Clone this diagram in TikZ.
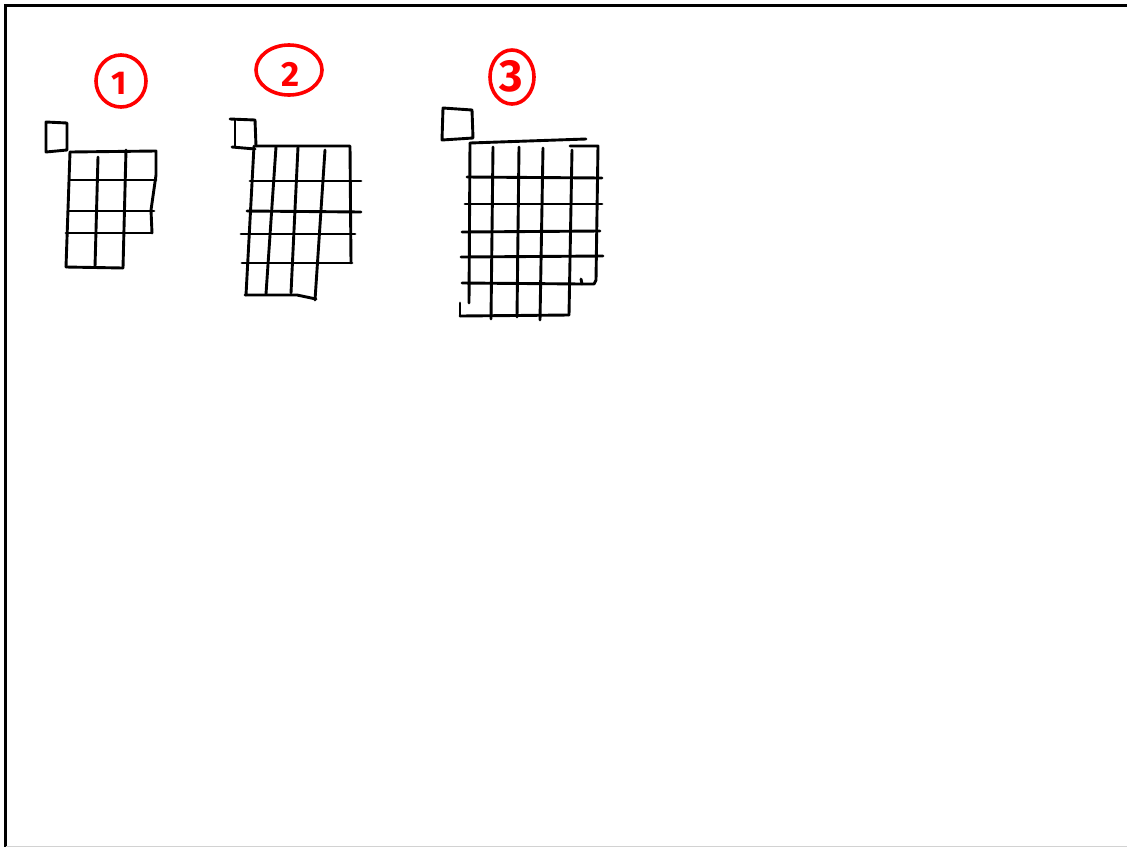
\documentclass[tikz,border=0pt]{standalone}
\usepackage{fontspec}
\newfontfamily\handfont{Fira Sans}
\begin{document}
\tikzset{
  ink/.style={line width=2.9pt, black, line cap=round, line join=round},
  redink/.style={line width=3.6pt, red, line cap=round},
  digit/.style={text=red, inner sep=0pt, anchor=center}
}
\begin{tikzpicture}[x=1pt,y=-1pt]
\useasboundingbox (0,0) rectangle (1127,847);
% frame
\draw[line width=3pt] (1127,5) -- (5,5) -- (5,847);
\draw[gray!35, line width=1pt] (6,846) -- (1127,846);

% ---------- figure 1 ----------
\draw[redink] (121,81) ellipse [x radius=25pt, y radius=26pt];
\node[digit, font=\handfont\bfseries\fontsize{33}{33}\selectfont] (d1) at (119.5,83.5) {1};
\draw[ink] (46,122) -- (67,123) -- (67,150) -- (46,152) -- cycle;
\draw[ink] (70,152) -- (156,151) -- (156,175) -- (151,210) -- (152,233);
\draw[ink] (70,180) -- (156,180);
\draw[ink] (68,211) -- (154,211);
\draw[ink] (66,233) -- (152,233);
\draw[ink] (66,267) -- (123,268);
\draw[ink] (70,152) -- (66,267);
\draw[ink] (98,157) -- (95,267);
\draw[ink] (126,150) -- (123,268);

% ---------- figure 2 ----------
\draw[redink] (289,70) ellipse [x radius=33pt, y radius=25pt];
\node[digit, font=\handfont\bfseries\fontsize{35}{35}\selectfont] (d2) at (290.5,74.5) {2};
\draw[ink] (230,119) -- (255,120);
\draw[ink] (235,120) -- (235,147);
\draw[ink] (255,120) -- (256,146);
\draw[ink] (232,147) -- (255,149);
\draw[ink] (256,146) -- (350,146) -- (351,263);
\draw[ink] (250,181) -- (361,181);
\draw[ink] (247,211) -- (361,212);
\draw[ink] (241,234) -- (355,234);
\draw[ink] (242,263) -- (352,263);
\draw[ink] (245,295) -- (297,295) -- (316,299);
\draw[ink] (254,146) -- (246,295);
\draw[ink] (276,147) -- (266,294);
\draw[ink] (298,147) -- (291,293);
\draw[ink] (325,150) -- (315,300);

% ---------- figure 3 ----------
\draw[redink] (512,77) ellipse [x radius=22pt, y radius=27pt];
\node[digit, font=\handfont\bfseries\fontsize{45}{45}\selectfont] (d3) at (511,76) {3};
\draw[ink] (443,108) -- (472,110) -- (473,138) -- (442,140) -- cycle;
\draw[ink] (470,143) -- (586,139);
\draw[ink] (570,146) -- (598,146) -- (596,280) -- (594,284) -- (582,284) -- (581,279);
\draw[ink] (467,177) -- (602,178);
\draw[ink] (465,204) -- (602,204);
\draw[ink] (462,232) -- (600,231);
\draw[ink] (461,257) -- (603,256);
\draw[ink] (462,283) -- (582,284);
\draw[ink] (460,316) -- (569,315);
\draw[ink] (470,143) -- (469,303);
\draw[ink] (460,303) -- (460,316);
\draw[ink] (493,147) -- (491,319);
\draw[ink] (519,147) -- (517,317);
\draw[ink] (543,148) -- (540,320);
\draw[ink] (572,150) -- (569,315);
\end{tikzpicture}
\end{document}
